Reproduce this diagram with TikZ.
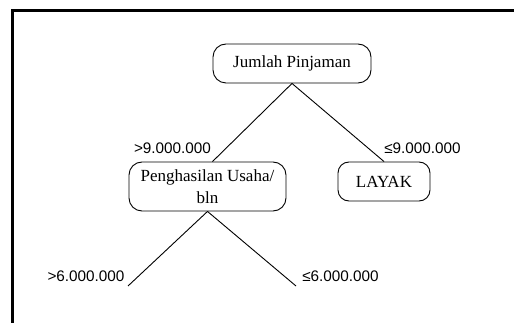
\documentclass[tikz,border=0pt]{standalone}
\usepackage{fontspec}
\setmainfont{Liberation Serif}
\newfontfamily\numfont{Liberation Sans}
\begin{document}
\begin{tikzpicture}[x=1pt,y=-1pt,
  box/.style={draw, line width=0.9pt, rounded corners=13pt, inner sep=0pt, align=center,
    font=\fontsize{17}{22}\selectfont},
  conn/.style={line width=0.9pt},
  lbl/.style={inner sep=0pt, font=\numfont\fontsize{15.3}{17}\selectfont}]
\useasboundingbox (0,0) rectangle (514,323);
\draw[line width=2.5pt] (12.5,323) -- (12.5,10.5) -- (514,10.5);
\node[box, minimum width=158pt, minimum height=39pt] (root) at (292,63.5) {Jumlah Pinjaman};
\node[box, minimum width=157pt, minimum height=49pt] (peng) at (207.5,186.5) {Penghasilan Usaha/\\bln};
\node[box, minimum width=92pt, minimum height=39pt, rounded corners=11pt] (layak) at (384,181.5) {LAYAK};
\coordinate (l1) at (128,286);
\coordinate (r1) at (296,286);
\draw[conn] (root.south) -- ([xshift=5pt]peng.north);
\draw[conn] (root.south) -- (layak.north);
\draw[conn] (peng.south) -- (l1);
\draw[conn] (peng.south) -- (r1);
\node[lbl] (t1) at (172.5,148.5) {>9.000.000};
\node[lbl] (t2) at (422.5,148.5) {≤9.000.000};
\node[lbl] (t3) at (86,276.5) {>6.000.000};
\node[lbl] (t4) at (340.5,276.5) {≤6.000.000};
\end{tikzpicture}
\end{document}
